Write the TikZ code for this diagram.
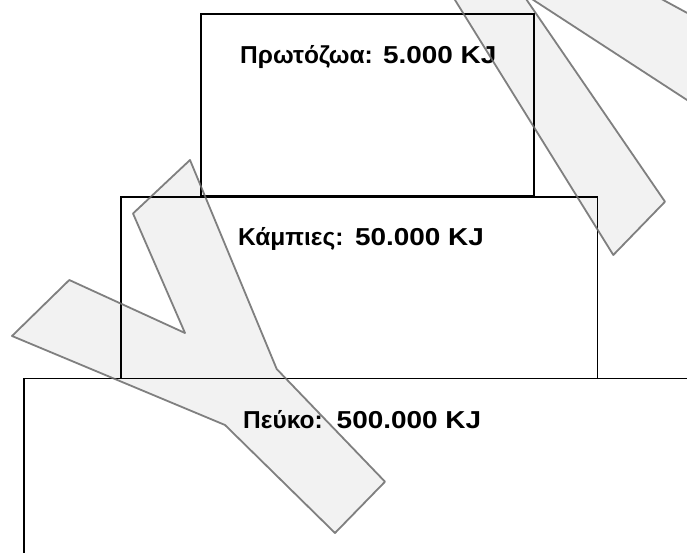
\documentclass[tikz,border=0pt]{standalone}
\usepackage{graphicx}
\usepackage{fontspec}
\setmainfont{Liberation Sans}
\newcommand{\numpart}[1]{\scalebox{1.14}[1]{#1}}
\begin{document}
\begin{tikzpicture}[x=1pt,y=-1pt,
  level/.style={draw=black,line width=1.5pt,fill=white},
  lbl/.style={font=\bfseries\fontsize{24.5}{28}\selectfont,anchor=base west,inner sep=0pt},
  wmark/.style={draw=black!58,draw opacity=0.85,line width=1.8pt,fill=black,fill opacity=0.05,line join=round}]
\useasboundingbox (0,0) rectangle (687,553);
\fill[white] (0,0) rectangle (687,553);
\begin{scope}
\clip (0,0) rectangle (687,553);
\draw[level] (24,378.5) rectangle (700,570);
\draw[level] (121,197) rectangle (597.5,378.5);
\draw[level] (201,14) rectangle (534,196);
\node[lbl] (t1) at (240,63.3) {Πρωτόζωα:\hspace{0.05em} \numpart{5.000 KJ}};
\node[lbl] (t2) at (238,245.7) {Κάμπιες:\hspace{0.1em} \numpart{50.000 KJ}};
\node[lbl] (t3) at (243,428.3) {Πεύκο:\hspace{0.2em} \numpart{500.000 KJ}};
\path[wmark] (190,160) -- (133,213.5) -- (185,333) -- (69.3,280) -- (12,336) -- (225,425) -- (335,533) -- (385,481.7) -- (276.7,369) -- cycle;
\path[wmark] (613.3,255) -- (665,201.7) -- (521.4,-7.8) -- (760,147.5) -- (760,52.5) -- (663.3,0) -- (640,-12.5) -- (380.5,-120) -- (455,0) -- cycle;
\end{scope}
\end{tikzpicture}
\end{document}
